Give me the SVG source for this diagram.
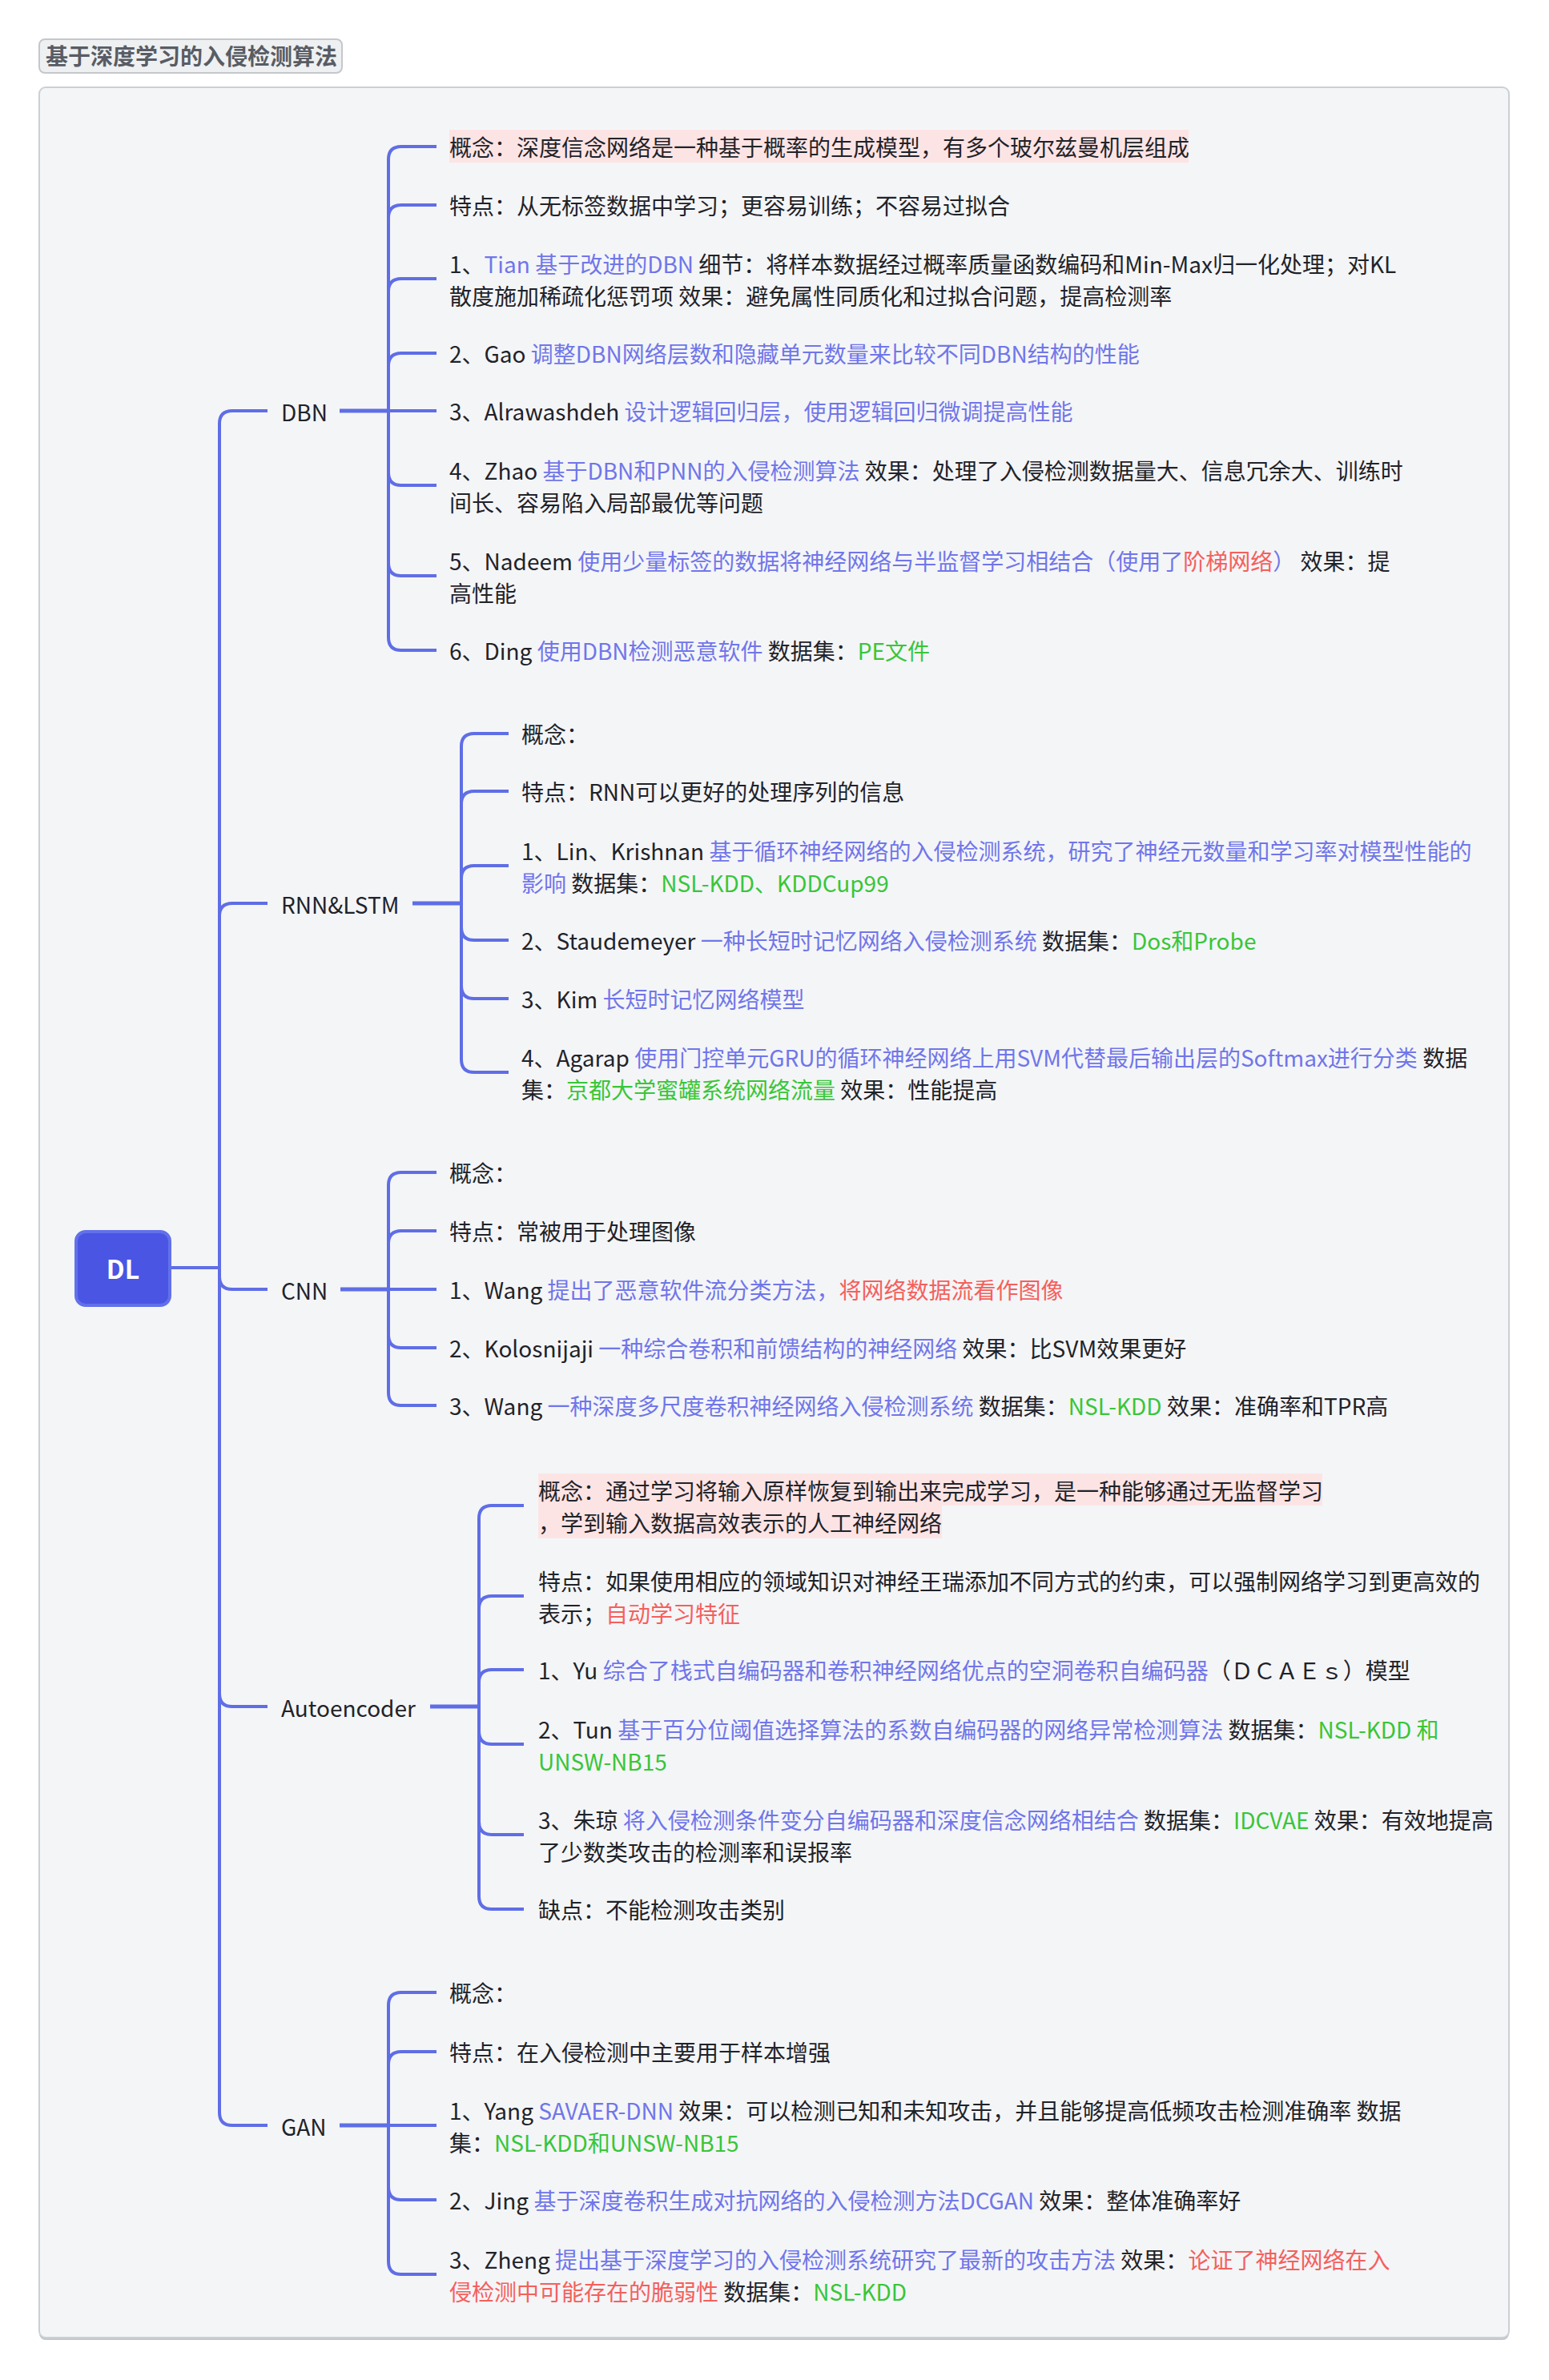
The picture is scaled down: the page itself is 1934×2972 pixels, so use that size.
<svg xmlns="http://www.w3.org/2000/svg" width="1934" height="2972" viewBox="0 0 1934 2972">
<style>
.t{font-family:"Noto Sans CJK SC","Noto Sans",sans-serif;font-size:28px;fill:#1f2329;white-space:pre}
.lv{font-family:"Noto Sans CJK SC","Noto Sans",sans-serif;font-size:28px;fill:#1f2329}
.b{fill:#7076ea}
.g{fill:#38c638}
.r{fill:#f4605c}
.c{fill:none;stroke:#5f6ee6;stroke-width:4}
.s{fill:none;stroke:#5f6ee6;stroke-width:5}
.hl{fill:#fde4e4}
</style>
<rect width="1934" height="2972" fill="#ffffff"/>
<g id="title">
<rect x="49" y="49" width="378" height="42" rx="7" fill="#eef0f2" stroke="#c4c7cc" stroke-width="2"/>
<text x="57" y="81" font-family="Noto Sans CJK SC, sans-serif" font-size="28" font-weight="bold" fill="#585c64">基于深度学习的入侵检测算法</text>
</g>
<g id="panel">
<rect x="49" y="111" width="1835" height="2811" rx="8" fill="#c3c6cb"/>
<rect x="49" y="109" width="1835" height="2810" rx="8" fill="#f4f5f7" stroke="#ccd0d4" stroke-width="2"/>
</g>
<g id="connectors">
<path class="c" d="M214 1583H274"/>
<path class="c" d="M334 513H290Q274 513 274 529V2638Q274 2654 290 2654H334"/>
<path class="c" d="M334 1128H290Q274 1128 274 1144"/>
<path class="c" d="M274 1594Q274 1610 290 1610H334"/>
<path class="c" d="M274 2115Q274 2131 290 2131H334"/>
<!-- DBN -->
<path class="s" d="M424 513H485"/>
<path class="c" d="M545 183H501Q485 183 485 199V796Q485 812 501 812H545"/>
<path class="c" d="M545 256H501Q485 256 485 272"/>
<path class="c" d="M545 348H501Q485 348 485 364"/>
<path class="c" d="M545 441H501Q485 441 485 457"/>
<path class="c" d="M485 513H545"/>
<path class="c" d="M485 590Q485 606 501 606H545"/>
<path class="c" d="M485 703Q485 719 501 719H545"/>
<!-- RNN -->
<path class="s" d="M515 1128H576"/>
<path class="c" d="M635 916H592Q576 916 576 932V1323Q576 1339 592 1339H635"/>
<path class="c" d="M635 988H592Q576 988 576 1004"/>
<path class="c" d="M635 1081H592Q576 1081 576 1097"/>
<path class="c" d="M576 1158Q576 1174 592 1174H635"/>
<path class="c" d="M576 1231Q576 1247 592 1247H635"/>
<!-- CNN -->
<path class="s" d="M425 1610H485"/>
<path class="c" d="M545 1464H501Q485 1464 485 1480V1739Q485 1755 501 1755H545"/>
<path class="c" d="M545 1537H501Q485 1537 485 1553"/>
<path class="c" d="M485 1610H545"/>
<path class="c" d="M485 1667Q485 1683 501 1683H545"/>
<!-- Autoencoder -->
<path class="s" d="M537 2131H598"/>
<path class="c" d="M654 1880H614Q598 1880 598 1896V2368Q598 2384 614 2384H654"/>
<path class="c" d="M654 1993H614Q598 1993 598 2009"/>
<path class="c" d="M654 2085H614Q598 2085 598 2101"/>
<path class="c" d="M598 2162Q598 2178 614 2178H654"/>
<path class="c" d="M598 2275Q598 2291 614 2291H654"/>
<!-- GAN -->
<path class="s" d="M424 2654H485"/>
<path class="c" d="M545 2488H501Q485 2488 485 2504V2824Q485 2840 501 2840H545"/>
<path class="c" d="M545 2562H501Q485 2562 485 2578"/>
<path class="c" d="M485 2654H545"/>
<path class="c" d="M485 2731Q485 2747 501 2747H545"/>
</g>
<g id="root">
<rect x="95" y="1538" width="117" height="92" rx="12" fill="#4a55e4" stroke="#6271ea" stroke-width="4"/>
<text x="153.5" y="1597" text-anchor="middle" font-family="Noto Sans CJK SC, sans-serif" font-size="32" font-weight="bold" fill="#ffffff">DL</text>
</g>
<g id="n-dbn"><text class="lv" x="351" y="526">DBN</text></g>
<g id="n-rnn"><text class="lv" x="351" y="1141">RNN&amp;LSTM</text></g>
<g id="n-cnn"><text class="lv" x="351" y="1623">CNN</text></g>
<g id="n-ae"><text class="lv" x="351" y="2144">Autoencoder</text></g>
<g id="n-gan"><text class="lv" x="351" y="2667">GAN</text></g>

<g id="dbn-1"><rect class="hl" x="561" y="162" width="923" height="41"/><text class="t" x="561" y="195">概念：深度信念网络是一种基于概率的生成模型，有多个玻尔兹曼机层组成</text></g>
<g id="dbn-2"><text class="t" x="561" y="268">特点：从无标签数据中学习；更容易训练；不容易过拟合</text></g>
<g id="dbn-3"><text class="t" x="561" y="341">1、<tspan class="b">Tian 基于改进的DBN</tspan> 细节：将样本数据经过概率质量函数编码和Min-Max归一化处理；对KL</text><text class="t" x="561" y="381">散度施加稀疏化惩罚项 效果：避免属性同质化和过拟合问题，提高检测率</text></g>
<g id="dbn-4"><text class="t" x="561" y="453">2、Gao <tspan class="b">调整DBN网络层数和隐藏单元数量来比较不同DBN结构的性能</tspan></text></g>
<g id="dbn-5"><text class="t" x="561" y="525">3、Alrawashdeh <tspan class="b">设计逻辑回归层，使用逻辑回归微调提高性能</tspan></text></g>
<g id="dbn-6"><text class="t" x="561" y="599">4、Zhao <tspan class="b">基于DBN和PNN的入侵检测算法</tspan> 效果：处理了入侵检测数据量大、信息冗余大、训练时</text><text class="t" x="561" y="639">间长、容易陷入局部最优等问题</text></g>
<g id="dbn-7"><text class="t" x="561" y="712">5、Nadeem <tspan class="b">使用少量标签的数据将神经网络与半监督学习相结合（使用了</tspan><tspan class="r">阶梯网络</tspan><tspan class="b">）</tspan> 效果：提</text><text class="t" x="561" y="752">高性能</text></g>
<g id="dbn-8"><text class="t" x="561" y="824">6、Ding <tspan class="b">使用DBN检测恶意软件</tspan> 数据集：<tspan class="g">PE文件</tspan></text></g>

<g id="rnn-1"><text class="t" x="651" y="928">概念：</text></g>
<g id="rnn-2"><text class="t" x="651" y="1000">特点：RNN可以更好的处理序列的信息</text></g>
<g id="rnn-3"><text class="t" x="651" y="1074">1、Lin、Krishnan <tspan class="b">基于循环神经网络的入侵检测系统，研究了神经元数量和学习率对模型性能的</tspan></text><text class="t" x="651" y="1114"><tspan class="b">影响</tspan> 数据集：<tspan class="g">NSL-KDD、KDDCup99</tspan></text></g>
<g id="rnn-4"><text class="t" x="651" y="1186">2、Staudemeyer <tspan class="b">一种长短时记忆网络入侵检测系统</tspan> 数据集：<tspan class="g">Dos和Probe</tspan></text></g>
<g id="rnn-5"><text class="t" x="651" y="1259">3、Kim <tspan class="b">长短时记忆网络模型</tspan></text></g>
<g id="rnn-6"><text class="t" x="651" y="1332">4、Agarap <tspan class="b">使用门控单元GRU的循环神经网络上用SVM代替最后输出层的Softmax进行分类</tspan> 数据</text><text class="t" x="651" y="1372">集：<tspan class="g">京都大学蜜罐系统网络流量</tspan> 效果：性能提高</text></g>

<g id="cnn-1"><text class="t" x="561" y="1476">概念：</text></g>
<g id="cnn-2"><text class="t" x="561" y="1549">特点：常被用于处理图像</text></g>
<g id="cnn-3"><text class="t" x="561" y="1622">1、Wang <tspan class="b">提出了恶意软件流分类方法，</tspan><tspan class="r">将网络数据流看作图像</tspan></text></g>
<g id="cnn-4"><text class="t" x="561" y="1695">2、Kolosnijaji <tspan class="b">一种综合卷积和前馈结构的神经网络</tspan> 效果：比SVM效果更好</text></g>
<g id="cnn-5"><text class="t" x="561" y="1767">3、Wang <tspan class="b">一种深度多尺度卷积神经网络入侵检测系统</tspan> 数据集：<tspan class="g">NSL-KDD</tspan> 效果：准确率和TPR高</text></g>

<g id="ae-1"><rect class="hl" x="672" y="1840" width="979" height="40"/><rect class="hl" x="672" y="1880" width="504" height="41"/><text class="t" x="672" y="1873">概念：通过学习将输入原样恢复到输出来完成学习，是一种能够通过无监督学习</text><text class="t" x="672" y="1913">，学到输入数据高效表示的人工神经网络</text></g>
<g id="ae-2"><text class="t" x="672" y="1986">特点：如果使用相应的领域知识对神经王瑞添加不同方式的约束，可以强制网络学习到更高效的</text><text class="t" x="672" y="2026">表示；<tspan class="r">自动学习特征</tspan></text></g>
<g id="ae-3"><text class="t" x="672" y="2097">1、Yu <tspan class="b">综合了栈式自编码器和卷积神经网络优点的空洞卷积自编码器</tspan>（ＤＣＡＥｓ）模型</text></g>
<g id="ae-4"><text class="t" x="672" y="2171">2、Tun <tspan class="b">基于百分位阈值选择算法的系数自编码器的网络异常检测算法</tspan> 数据集：<tspan class="g">NSL-KDD 和</tspan></text><text class="t" x="672" y="2211"><tspan class="g">UNSW-NB15</tspan></text></g>
<g id="ae-5"><text class="t" x="672" y="2284">3、朱琼 <tspan class="b">将入侵检测条件变分自编码器和深度信念网络相结合</tspan> 数据集：<tspan class="g">IDCVAE</tspan> 效果：有效地提高</text><text class="t" x="672" y="2324">了少数类攻击的检测率和误报率</text></g>
<g id="ae-6"><text class="t" x="672" y="2396">缺点：不能检测攻击类别</text></g>

<g id="gan-1"><text class="t" x="561" y="2500">概念：</text></g>
<g id="gan-2"><text class="t" x="561" y="2574">特点：在入侵检测中主要用于样本增强</text></g>
<g id="gan-3"><text class="t" x="561" y="2647">1、Yang <tspan class="b">SAVAER-DNN</tspan> 效果：可以检测已知和未知攻击，并且能够提高低频攻击检测准确率 数据</text><text class="t" x="561" y="2687">集：<tspan class="g">NSL-KDD和UNSW-NB15</tspan></text></g>
<g id="gan-4"><text class="t" x="561" y="2759">2、Jing <tspan class="b">基于深度卷积生成对抗网络的入侵检测方法DCGAN</tspan> 效果：整体准确率好</text></g>
<g id="gan-5"><text class="t" x="561" y="2833">3、Zheng <tspan class="b">提出基于深度学习的入侵检测系统研究了最新的攻击方法</tspan> 效果：<tspan class="r">论证了神经网络在入</tspan></text><text class="t" x="561" y="2873"><tspan class="r">侵检测中可能存在的脆弱性</tspan> 数据集：<tspan class="g">NSL-KDD</tspan></text></g>
</svg>
